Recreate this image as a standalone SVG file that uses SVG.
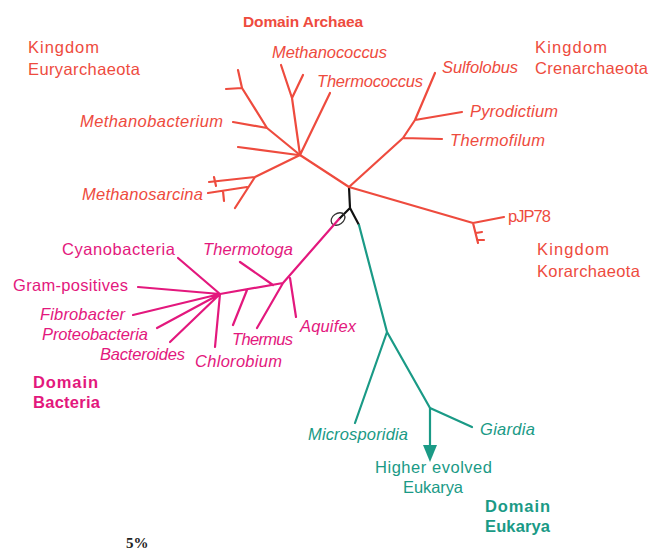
<svg xmlns="http://www.w3.org/2000/svg" width="650" height="553" viewBox="0 0 650 553">
<style>
text{font-family:"Liberation Sans",Arial,sans-serif;font-size:16.5px}
.it{font-style:italic}
.b{font-weight:bold}
.r{fill:#ee4b3e}
.m{fill:#e3187d}
.t{fill:#1a9a86}
.lr{stroke:#ee4b3e;stroke-width:2.2;fill:none;stroke-linecap:round;stroke-linejoin:round}
.lm{stroke:#e3187d;stroke-width:2.2;fill:none;stroke-linecap:round;stroke-linejoin:round}
.lt{stroke:#1a9a86;stroke-width:2.2;fill:none;stroke-linecap:round;stroke-linejoin:round}
.lk{stroke:#111;stroke-width:2.2;fill:none;stroke-linecap:round;stroke-linejoin:round}
</style>
<rect width="650" height="553" fill="#fff"/>
<g id="connectors">
  <path class="lk" d="M349,187 L350,208 M350,208 L339,219 M350,208 L359,225"/>
  <ellipse cx="338" cy="219" rx="7.5" ry="5.5" transform="rotate(-35 338 219)" fill="none" stroke="#333" stroke-width="1.3"/>
  <path class="lr" d="M349,187 L300,155 M349,187 L473,223 L504,217 M473,223 L478,243 M476,233 L482,232 M477,240 L484,240"/>
  <path class="lr" d="M349,187 L403,138 L415,120 L435,73 M403,138 L442,139 M415,120 L462,112"/>
  <path class="lr" d="M300,155 L330,93 M300,155 L292,98 L281,65 M292,98 L303,75"/>
  <path class="lr" d="M300,155 L267,128 L242,88 L238,70 M267,128 L233,122 M242,88 L226,89 M298,155 L238,147"/>
  <path class="lr" d="M300,155 L255,177 L235,208 M255,177 L209,182 M214,177 L216,186 M247,187 L208,193 M223,191 L224,201"/>
  <path class="lm" d="M339,219 L283,283 L220,294 M290,278 L296,317 M283,283 L257,328 M273,285 L240,262 M247,290 L233,325"/>
  <path class="lm" d="M220,294 L178,258 M220,294 L138,287 M220,294 L133,315 M220,294 L157,328 M220,294 L170,342 M220,294 L215,347"/>
  <path class="lt" d="M359,225 L387,332 L355,423 M387,332 L430,408 L472,427"/>
  <path class="lt" d="M430,408 L430,448" stroke-width="2.6"/>
  <polygon points="423,445 437,445 430,462" fill="#1a9a86"/>
</g>
<g id="archaea-labels">
  <text class="r b" x="243" y="27" textLength="120" style="font-size:15.5px">Domain Archaea</text>
  <text class="r" x="28" y="53" textLength="71">Kingdom</text>
  <text class="r" x="28" y="75" textLength="112">Euryarchaeota</text>
  <text class="r" x="535" y="53" textLength="72">Kingdom</text>
  <text class="r" x="535" y="74" textLength="113">Crenarchaeota</text>
  <text class="r" x="508" y="222" textLength="43">pJP78</text>
  <text class="r" x="537" y="255" textLength="72">Kingdom</text>
  <text class="r" x="537" y="277" textLength="103">Korarchaeota</text>
</g>
<g id="node-methanococcus"><text class="r it" x="272" y="58" textLength="115">Methanococcus</text></g>
<g id="node-thermococcus"><text class="r it" x="317" y="87" textLength="106">Thermococcus</text></g>
<g id="node-sulfolobus"><text class="r it" x="442" y="73" textLength="76">Sulfolobus</text></g>
<g id="node-pyrodictium"><text class="r it" x="470" y="117" textLength="88">Pyrodictium</text></g>
<g id="node-thermofilum"><text class="r it" x="450" y="146" textLength="95">Thermofilum</text></g>
<g id="node-methanobacterium"><text class="r it" x="80" y="127" textLength="143">Methanobacterium</text></g>
<g id="node-methanosarcina"><text class="r it" x="82" y="200" textLength="121">Methanosarcina</text></g>
<g id="node-cyanobacteria"><text class="m" x="62" y="255" textLength="113">Cyanobacteria</text></g>
<g id="node-thermotoga"><text class="m it" x="203" y="255" textLength="90">Thermotoga</text></g>
<g id="node-grampositives"><text class="m" x="13" y="291" textLength="115">Gram-positives</text></g>
<g id="node-fibrobacter"><text class="m it" x="40" y="320" textLength="85">Fibrobacter</text></g>
<g id="node-proteobacteria"><text class="m it" x="42" y="340" textLength="106">Proteobacteria</text></g>
<g id="node-bacteroides"><text class="m it" x="100" y="360" textLength="85">Bacteroides</text></g>
<g id="node-thermus"><text class="m it" x="232" y="345" textLength="61">Thermus</text></g>
<g id="node-chlorobium"><text class="m it" x="195" y="367" textLength="87">Chlorobium</text></g>
<g id="node-aquifex"><text class="m it" x="300" y="332" textLength="56">Aquifex</text></g>
<g id="bacteria-labels">
  <text class="m b" x="33" y="388" textLength="65">Domain</text>
  <text class="m b" x="33" y="408" textLength="67">Bacteria</text>
</g>
<g id="node-microsporidia"><text class="t it" x="308" y="440" textLength="100">Microsporidia</text></g>
<g id="node-giardia"><text class="t it" x="480" y="435" textLength="55">Giardia</text></g>
<g id="node-higher">
  <text class="t" x="375" y="473" textLength="117">Higher evolved</text>
  <text class="t" x="403" y="493" textLength="60">Eukarya</text>
</g>
<g id="eukarya-labels">
  <text class="t b" x="485" y="512" textLength="65">Domain</text>
  <text class="t b" x="485" y="532" textLength="65">Eukarya</text>
</g>
<g id="scale"><text x="126" y="548" style="font-family:'Liberation Serif','Times New Roman',serif;font-size:15px;font-weight:bold;fill:#222">5%</text></g>
</svg>
